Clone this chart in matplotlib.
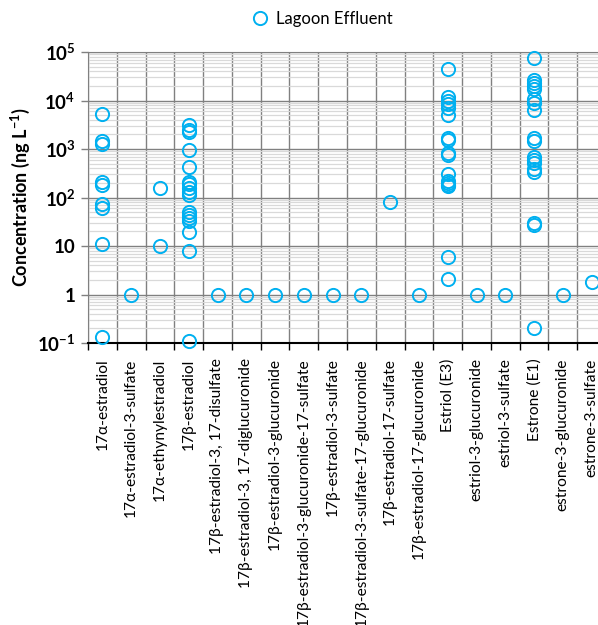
import matplotlib
matplotlib.use("Agg")
from matplotlib import pyplot as plt
from matplotlib.ticker import FixedLocator, LogLocator, NullFormatter
import numpy as np

plt.rcParams['font.family'] = ['Lato', 'DejaVu Sans']
plt.rcParams['mathtext.fontset'] = 'custom'
plt.rcParams['mathtext.rm'] = 'Lato'
plt.rcParams['mathtext.bf'] = 'Lato:bold'

compounds = ["17α-estradiol", "17α-estradiol-3-sulfate", "17α-ethynylestradiol",
             "17β-estradiol", "17β-estradiol-3, 17-disulfate",
             "17β-estradiol-3, 17-diglucuronide", "17β-estradiol-3-glucuronide",
             "17β-estradiol-3-glucuronide-17-sulfate", "17β-estradiol-3-sulfate",
             "17β-estradiol-3-sulfate-17-glucuronide", "17β-estradiol-17-sulfate",
             "17β-estradiol-17-glucuronide", "Estriol (E3)", "estriol-3-glucuronide",
             "estriol-3-sulfate", "Estrone (E1)", "estrone-3-glucuronide",
             "estrone-3-sulfate"]

# lagoon effluent concentrations (ng/L) per compound
a_e2 = [5200, 1450, 1250, 205, 185, 72, 62, 11, 0.13]
a_e2_3s = [1.0]
ee2 = [155, 10]
b_e2 = [3200, 2500, 2200, 960, 430, 205, 190, 155, 128, 113, 51, 43, 38, 33, 19, 8.0, 0.11]
b_e2_disulf = [1.0]
b_e2_digluc = [1.0]
b_e2_3g = [1.0]
b_e2_3g17s = [1.0]
b_e2_3s = [1.0]
b_e2_3s17g = [1.0]
b_e2_17s = [80]
b_e2_17g = [1.0]
e3 = [45000, 12000, 10000, 8500, 7000, 5000, 1650, 1500, 820, 750, 310, 220, 200, 180, 170, 6.0, 2.1]
e3_3g = [1.0]
e3_3s = [1.0]
e1 = [75000, 27000, 23000, 20000, 17000, 10500, 9000, 6500, 1700, 1450, 700, 600, 520, 380, 340, 30, 27, 0.2]
e1_3g = [1.0]
e1_3s = [1.8]

values = [a_e2, a_e2_3s, ee2, b_e2, b_e2_disulf, b_e2_digluc, b_e2_3g, b_e2_3g17s,
          b_e2_3s, b_e2_3s17g, b_e2_17s, b_e2_17g, e3, e3_3g, e3_3s, e1, e1_3g, e1_3s]

yticks = [1e-1, 1, 10, 1e2, 1e3, 1e4, 1e5]
ytick_labels = [r"$\mathbf{10^{-1}}$", "1", "10", r"$\mathbf{10^{2}}$",
                r"$\mathbf{10^{3}}$", r"$\mathbf{10^{4}}$", r"$\mathbf{10^{5}}$"]

fig = plt.figure(figsize=(5.98, 6.25), dpi=100)
ax = fig.add_axes([88 / 598, 1 - 343 / 625, 518 / 598, 291 / 625])

blue = "#00B0F0"
for i, v in enumerate(values):
    ax.plot([i] * len(v), v, "o", mfc="none", mec=blue, mew=1.4, ms=9.5,
            clip_on=False, zorder=3, label="Lagoon Effluent" if i == 0 else None)

ax.set_yscale("log")
ax.set_ylim(1e-1, 1e5)
ax.set_xlim(-0.5, len(compounds) - 0.5)

ax.yaxis.set_major_locator(FixedLocator(yticks))
ax.set_yticklabels(ytick_labels, fontsize=13.5, fontweight="bold")
ax.yaxis.set_minor_locator(LogLocator(base=10, subs=np.arange(2, 10), numticks=20))
ax.yaxis.set_minor_formatter(NullFormatter())
ax.tick_params(axis="y", which="major", direction="out", length=5, width=1, color="#808080", pad=4)
ax.tick_params(axis="y", which="minor", length=0)

ax.set_xticks(np.arange(len(compounds)))
ax.set_xticklabels(compounds, rotation=90, fontsize=11.2)
ax.set_xticks(np.arange(len(compounds) + 1) - 0.5, minor=True)
ax.tick_params(axis="x", which="major", length=0, pad=11)
ax.tick_params(axis="x", which="minor", direction="out", length=5, width=1, color="black")

ax.yaxis.grid(True, which="minor", color="#d9d9d9", lw=0.9)
ax.yaxis.grid(True, which="major", color="#808080", lw=1)
ax.xaxis.grid(True, which="minor", color="#808080", lw=1)
ax.set_axisbelow(True)

ax.spines["bottom"].set_color("black")
ax.spines["bottom"].set_linewidth(1.5)
ax.spines["left"].set_color("#808080")
ax.spines["top"].set_color("#808080")
ax.spines["right"].set_visible(False)

ax.set_ylabel(r"Concentration (ng $\mathbf{L^{-1}}$)", fontsize=13, fontweight="bold")
ax.yaxis.set_label_coords(-0.108, 0.5)

fig.legend(loc="center", bbox_to_anchor=(318 / 598, 1 - 19 / 625), frameon=False,
           fontsize=12, handletextpad=0.0, borderaxespad=0)

plt.savefig("out.png")
plt.close()
